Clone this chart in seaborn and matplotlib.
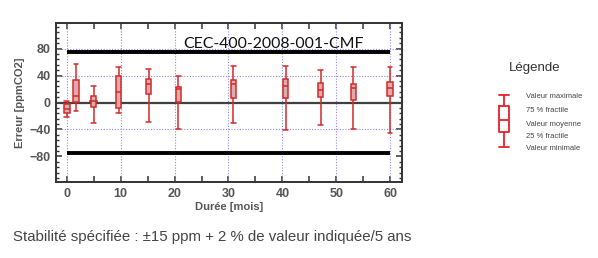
import numpy as np
import pandas as pd
import matplotlib
matplotlib.use("Agg")
import matplotlib.pyplot as plt
import seaborn as sns
from matplotlib.ticker import MultipleLocator, AutoMinorLocator

# ---- data ----
months = [0, 1.7, 5, 9.6, 15.2, 20.7, 30.9, 40.6, 47.1, 53.2, 60.0]
v_min = [-22, -13, -30, -16, -29, -39, -31, -41, -33, -39, -45]
v_q1 = [-15, 0.5, -6, -8, 13, 1, 7, 6, 8, 4, 9]
v_med = [-9, 9, 2.5, 16, 28, 20, 28, 24, 19, 21, 21]
v_q3 = [-2, 34, 9, 39, 35, 23, 34, 35, 29, 27, 30]
v_max = [2.5, 57, 25, 52, 50, 39, 54, 54, 48, 53, 53]
limit = 75
x_ticks = [0, 10, 20, 30, 40, 50, 60]
y_ticks = [-80, -40, 0, 40, 80]
legend_labels = ["Valeur maximale", "75 % fractile", "Valeur moyenne",
                 "25 % fractile", "Valeur minimale"]
legend_vals = [0, 11, 25, 37, 52]

rows = []
for t, a, b, c, d, e in zip(months, v_min, v_q1, v_med, v_q3, v_max):
    for v in (a, b, c, d, e):
        rows.append({"t": t, "err": v})
df = pd.DataFrame(rows)

sns.set_theme(style="white")
plt.rcParams["font.family"] = ["Liberation Sans", "DejaVu Sans"]

W, H = 598, 258
fig = plt.figure(figsize=(W / 100, H / 100), dpi=100)
ax = fig.add_axes([56 / W, 1 - 182 / H, 346 / W, 159 / H])


def widen_caps(axis, lows, highs, factor):
    for ln in axis.lines:
        xd = np.asarray(ln.get_xdata(), dtype=float)
        yd = np.asarray(ln.get_ydata(), dtype=float)
        if len(xd) == 2 and yd[0] == yd[1] and (yd[0] in lows or yd[0] in highs):
            c = xd.mean()
            half = (xd[1] - xd[0]) / 2
            ln.set_xdata([c - half * factor, c + half * factor])


red = "#d42a2a"
sns.boxplot(data=df, x="t", y="err", native_scale=True, whis=np.inf,
            width=0.6, ax=ax, linewidth=1.1,
            boxprops=dict(facecolor="#dcabab", edgecolor=red),
            whiskerprops=dict(color=red), capprops=dict(color=red),
            medianprops=dict(color=red), zorder=3)
widen_caps(ax, v_min, v_max, 1.7)

ax.set_xlim(-2.0, 62.2)
ax.set_ylim(-118, 118)

ax.axhline(0, color="#404040", lw=1.6, zorder=2)
ax.hlines([limit, -limit], 0, 60, color="black", lw=2.8, zorder=2)

ax.set_xticks(x_ticks)
ax.set_yticks(y_ticks)
ax.xaxis.set_minor_locator(MultipleLocator(5))
ax.yaxis.set_minor_locator(AutoMinorLocator(5))
for xv in x_ticks:
    ax.axvline(xv, color="#8f86e6", lw=0.8, ls=(0, (1, 1.5)), zorder=1)
for yv in [-40, 40, 80]:
    ax.axhline(yv, color="#8f86e6", lw=0.8, ls=(0, (1, 1.5)), zorder=1)

ax.tick_params(which="both", direction="in", top=True, right=True,
               bottom=True, left=True, color="#333333")
ax.tick_params(which="major", length=4, width=1.1, labelsize=9,
               labelcolor="#555555", pad=4)
ax.tick_params(axis="x", which="minor", length=4, width=1.1)
ax.tick_params(axis="y", which="minor", length=2.5, width=1)
for lab in ax.get_xticklabels() + ax.get_yticklabels():
    lab.set_fontweight("bold")
for s in ax.spines.values():
    s.set_color("#333333")
    s.set_linewidth(1.4)

ax.set_xlabel("Durée [mois]", fontsize=8, fontweight="bold", color="#555555",
              labelpad=2)
ax.set_ylabel("Erreur [ppmCO2]", fontsize=8, fontweight="bold", color="#555555",
              labelpad=3)

ax.text(274 / W, 1 - 44 / H, "CEC-400-2008-001-CMF", transform=fig.transFigure,
        ha="center", va="center", fontsize=11.4, color="#111111",
        family=["Lato", "DejaVu Sans"])

# legend panel
fig.text(535 / W, 1 - 68 / H, "Légende", ha="center", va="center",
         fontsize=9.5, color="#333333")
lax = fig.add_axes([494 / W, 1 - 149 / H, 20 / W, 56 / H])
ldf = pd.DataFrame({"g": ["a"] * 5, "v": legend_vals})
sns.boxplot(data=ldf, x="g", y="v", whis=np.inf, width=0.5, ax=lax,
            linewidth=1.3, fill=False, color="#e8202a")
widen_caps(lax, [legend_vals[0]], [legend_vals[-1]], 2.0)
lax.set_ylim(54, -2)
lax.axis("off")
for lbl, yy in zip(legend_labels, [96, 111, 124, 137, 149]):
    fig.text(526 / W, 1 - yy / H, lbl, ha="left", va="center", fontsize=5.5,
             color="#444444")

fig.text(13 / W, 1 - 237 / H,
         "Stabilité spécifiée : ±15 ppm + 2 % de valeur indiquée/5 ans",
         ha="left", va="center", fontsize=10.8, color="#444444")

fig.savefig("out.png", dpi=100)
